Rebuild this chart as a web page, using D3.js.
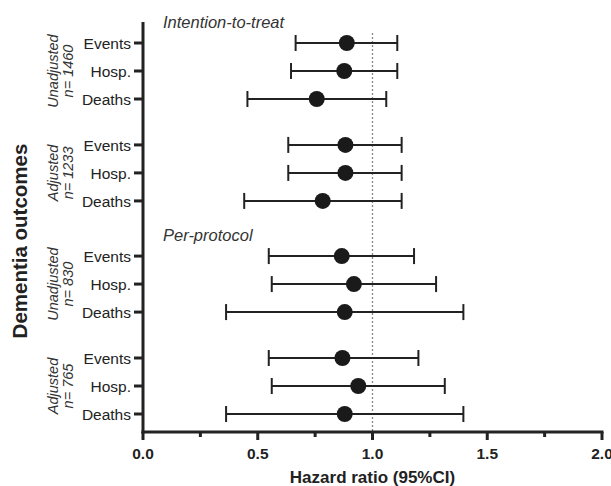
<!DOCTYPE html>
<html>
<head>
<meta charset="utf-8">
<script src="https://cdn.jsdelivr.net/npm/d3@7"></script>
<style>
  html, body { margin: 0; padding: 0; background: #fff; }
  svg { display: block; font-family: "Liberation Sans", Arial, sans-serif; }
</style>
</head>
<body>
<svg id="chart" width="611" height="486"></svg>
<script>
// ---- Data ----
const sections = ["Intention-to-treat", "Per-protocol"];
const groups = [
  { section: 0, name: "Unadjusted", n: "n= 1460" },
  { section: 0, name: "Adjusted", n: "n= 1233" },
  { section: 1, name: "Unadjusted", n: "n= 830" },
  { section: 1, name: "Adjusted", n: "n= 765" }
];
const outcomes = ["Events", "Hosp.", "Deaths"];
// hazard ratios [group][outcome]
const hr    = [[0.888, 0.877, 0.757], [0.882, 0.882, 0.783], [0.866, 0.919, 0.879], [0.869, 0.938, 0.879]];
const lower = [[0.665, 0.645, 0.455], [0.633, 0.633, 0.441], [0.548, 0.561, 0.362], [0.548, 0.561, 0.362]];
const upper = [[1.108, 1.108, 1.060], [1.127, 1.127, 1.127], [1.181, 1.277, 1.396], [1.200, 1.315, 1.396]];
const xTicks = [0, 0.5, 1.0, 1.5, 2.0];
const xMinorTicks = [0.25, 0.75, 1.25, 1.75];
const refValue = 1.0;

// ---- Layout ----
const svg = d3.select("#chart");
const pLeft = 143, pRight = 602, pTop = 22, pBottom = 432;
const x = d3.scaleLinear().domain([0, 2]).range([pLeft, pRight]);

// slot positions: rows within a group are 1 apart; gaps between groups / sections
const groupGap = 0.64, sectionGap = 0.97;
const rows = [];
let slot = 0;
groups.forEach((g, gi) => {
  if (gi > 0) slot += (groups[gi - 1].section !== g.section) ? sectionGap : groupGap;
  outcomes.forEach((o, oi) => {
    rows.push({ gi, oi, label: o, slot, hr: hr[gi][oi], lo: lower[gi][oi], hi: upper[gi][oi] });
    slot += 1;
  });
});
const y = d3.scaleLinear().domain([0, 1]).range([43, 71]);

const ink = "#222";

// reference dotted line
svg.append("line")
  .attr("x1", x(refValue)).attr("x2", x(refValue))
  .attr("y1", 33).attr("y2", pBottom)
  .attr("stroke", "#888").attr("stroke-width", 1.3)
  .attr("stroke-dasharray", "2,2");

// x axis
const xAxis = svg.append("g").attr("transform", `translate(0,${pBottom})`);
xAxis.append("line").attr("x1", pLeft - 1.5).attr("x2", pRight + 1.5)
  .attr("stroke", ink).attr("stroke-width", 3);
xAxis.selectAll(".maj").data(xTicks).join("line").attr("class", "maj")
  .attr("x1", d => x(d)).attr("x2", d => x(d)).attr("y1", 0).attr("y2", 8)
  .attr("stroke", ink).attr("stroke-width", 3);
xAxis.selectAll(".min").data(xMinorTicks).join("line").attr("class", "min")
  .attr("x1", d => x(d)).attr("x2", d => x(d)).attr("y1", 0).attr("y2", 5)
  .attr("stroke", ink).attr("stroke-width", 3);
xAxis.selectAll("text").data(xTicks).join("text")
  .attr("x", d => x(d)).attr("y", 26.5)
  .attr("text-anchor", "middle")
  .attr("font-size", 15.5).attr("font-weight", "bold").attr("fill", ink)
  .text(d => d3.format(".1f")(d));
svg.append("text")
  .attr("x", (pLeft + pRight) / 2).attr("y", 483)
  .attr("text-anchor", "middle")
  .attr("font-size", 17).attr("font-weight", "bold").attr("fill", ink)
  .text("Hazard ratio (95%CI)");

// y axis
svg.append("line").attr("x1", pLeft).attr("x2", pLeft)
  .attr("y1", pTop).attr("y2", pBottom + 1.5)
  .attr("stroke", ink).attr("stroke-width", 3);
svg.selectAll(".ytick").data(rows).join("line").attr("class", "ytick")
  .attr("x1", pLeft - 9).attr("x2", pLeft)
  .attr("y1", d => y(d.slot)).attr("y2", d => y(d.slot))
  .attr("stroke", ink).attr("stroke-width", 3);
svg.selectAll(".ylab").data(rows).join("text").attr("class", "ylab")
  .attr("x", pLeft - 12).attr("y", d => y(d.slot))
  .attr("dy", "0.36em").attr("text-anchor", "end")
  .attr("font-size", 15.5).attr("fill", ink)
  .text(d => d.label);

// group labels (rotated)
groups.forEach((g, gi) => {
  const gr = rows.filter(r => r.gi === gi);
  const cy = (y(gr[0].slot) + y(gr[gr.length - 1].slot)) / 2;
  svg.append("text")
    .attr("transform", `translate(58,${cy}) rotate(-90)`)
    .attr("text-anchor", "middle")
    .attr("font-size", 14.5).attr("font-style", "italic").attr("fill", "#333")
    .text(g.name);
  svg.append("text")
    .attr("transform", `translate(73,${cy}) rotate(-90)`)
    .attr("text-anchor", "middle")
    .attr("font-size", 14.5).attr("font-style", "italic").attr("fill", "#333")
    .text(g.n);
});

// section titles
sections.forEach((s, si) => {
  const first = rows.find(r => groups[r.gi].section === si);
  svg.append("text")
    .attr("x", 163).attr("y", y(first.slot) - 15)
    .attr("font-size", 16.5).attr("font-style", "italic").attr("fill", "#333")
    .text(s);
});

// big y title
svg.append("text")
  .attr("transform", `translate(27,${(pTop + pBottom) / 2 + 14}) rotate(-90)`)
  .attr("text-anchor", "middle")
  .attr("font-size", 20.5).attr("font-weight", "bold").attr("fill", ink)
  .text("Dementia outcomes");

// error bars
const bars = svg.append("g");
bars.selectAll(".ci").data(rows).join("line").attr("class", "ci")
  .attr("x1", d => x(d.lo)).attr("x2", d => x(d.hi))
  .attr("y1", d => y(d.slot)).attr("y2", d => y(d.slot))
  .attr("stroke", ink).attr("stroke-width", 2);
bars.selectAll(".capl").data(rows).join("line").attr("class", "capl")
  .attr("x1", d => x(d.lo)).attr("x2", d => x(d.lo))
  .attr("y1", d => y(d.slot) - 8).attr("y2", d => y(d.slot) + 8)
  .attr("stroke", ink).attr("stroke-width", 2);
bars.selectAll(".caph").data(rows).join("line").attr("class", "caph")
  .attr("x1", d => x(d.hi)).attr("x2", d => x(d.hi))
  .attr("y1", d => y(d.slot) - 8).attr("y2", d => y(d.slot) + 8)
  .attr("stroke", ink).attr("stroke-width", 2);
bars.selectAll("circle").data(rows).join("circle")
  .attr("cx", d => x(d.hr)).attr("cy", d => y(d.slot))
  .attr("r", 8).attr("fill", "#1a1a1a");
</script>
</body>
</html>
